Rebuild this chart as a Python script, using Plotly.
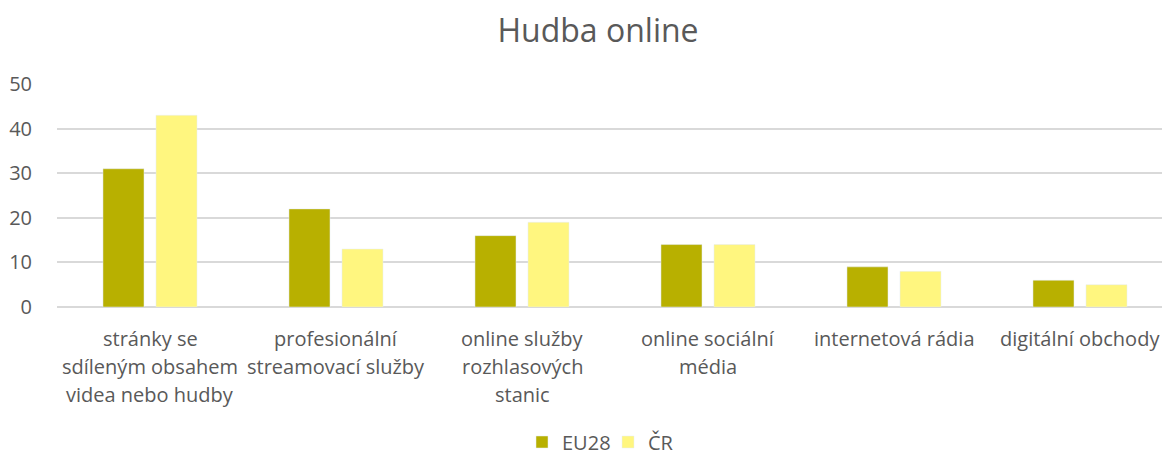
import plotly.graph_objects as go

categories = [
    "stránky se<br>sdíleným obsahem<br>videa nebo hudby",
    "profesionální<br>streamovací služby",
    "online služby<br>rozhlasových<br>stanic",
    "online sociální<br>média",
    "internetová rádia",
    "digitální obchody",
]
eu28 = [31, 22, 16, 14, 9, 6]
cr = [43, 13, 19, 14, 8, 5]
y_ticks = [0, 10, 20, 30, 40, 50]

FONT = "Open Sans"
GRAY = "#595959"
PLOT_TOP, PLOT_BOTTOM = 84, 307
PLOT_H = PLOT_BOTTOM - PLOT_TOP

fig = go.Figure()
fig.add_trace(go.Bar(x=categories, y=eu28, name="EU28", marker_color="#B8B000"))
fig.add_trace(go.Bar(x=categories, y=cr, name="ČR", marker_color="#FFF67F"))

# category labels as annotations (to control line spacing)
annotations = []
for cat in categories:
    for i, line in enumerate(cat.split("<br>")):
        py = 338 + 28 * i
        annotations.append(dict(
            x=cat, xref="x", y=-(py - PLOT_BOTTOM) / PLOT_H, yref="paper",
            text=line, showarrow=False, xanchor="center", yanchor="middle",
            font=dict(size=20, color=GRAY, family=FONT),
        ))

fig.update_layout(
    width=1162, height=457,
    margin=dict(l=57, r=0, t=PLOT_TOP, b=457 - PLOT_BOTTOM, autoexpand=False),
    paper_bgcolor="white", plot_bgcolor="white",
    barmode="group", bargap=0.43, bargroupgap=0.226,
    font=dict(family=FONT, color=GRAY, size=20),
    title=dict(text="Hudba online", x=598/1162, xref="container", xanchor="center",
               y=1 - 31/457, yanchor="middle", yref="container",
               font=dict(size=32, color=GRAY, family=FONT)),
    showlegend=True,
    legend=dict(orientation="h", x=608/1162, xref="container", xanchor="center",
                y=-(442 - PLOT_BOTTOM) / PLOT_H, yanchor="middle",
                font=dict(size=20, color=GRAY), itemwidth=30, traceorder="normal",
                entrywidth=41, entrywidthmode="pixels"),
    xaxis=dict(range=[-0.5, 5.5 - 11/186], showticklabels=False,
               showline=False, ticks=""),
    yaxis=dict(range=[0, 50], tickvals=y_ticks, showgrid=True, gridcolor="#D9D9D9",
               gridwidth=1.5, zeroline=True, zerolinecolor="#D9D9D9", zerolinewidth=1.5,
               tickfont=dict(size=20, color=GRAY), ticklabelstandoff=24),
    annotations=annotations,
)

fig.write_html(
    "out.html",
    config={"displayModeBar": False},
    post_script="document.body.style.margin='0';document.body.style.overflow='hidden';",
)
